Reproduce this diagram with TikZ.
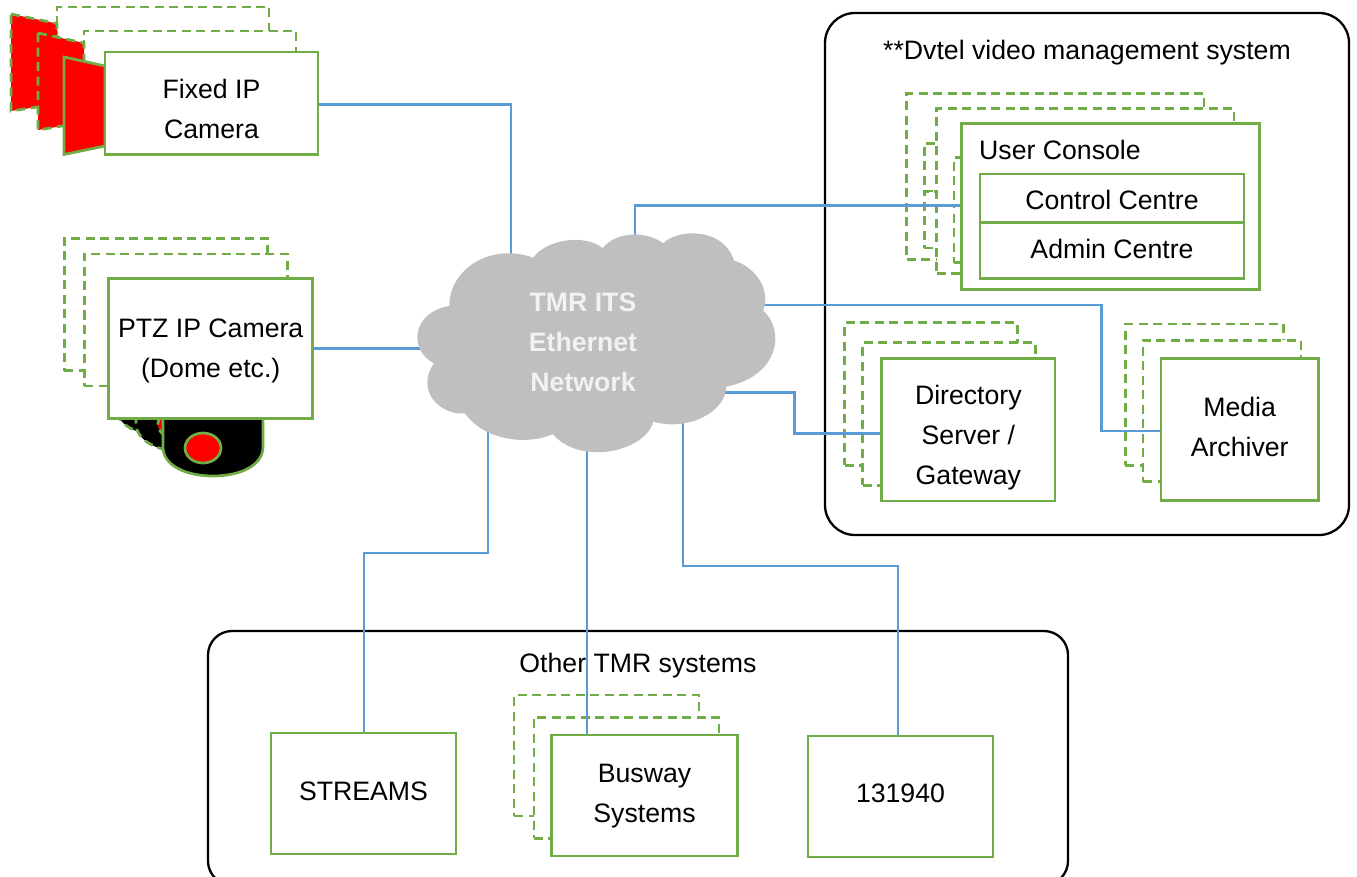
\documentclass[tikz,border=0pt]{standalone}
\usepackage{fontspec}
\setmainfont{Liberation Sans}
\definecolor{boxgreen}{HTML}{70AD47}
\definecolor{wireblue}{HTML}{5B9BD5}
\definecolor{cloudgrey}{HTML}{BFBFBF}
\tikzset{
  every node/.style={font=\fontsize{26.67}{40}\selectfont},
  unitbox/.style={draw=boxgreen,line width=2.7pt,fill=white,align=center,inner sep=0pt},
  ghostbox/.style={unitbox,dashed,dash pattern=on 9pt off 5.5pt},
  caption/.style={align=center,inner sep=0pt},
  sysbox/.style={draw=black,line width=2.3pt,rounded corners=30pt,inner sep=0pt},
  wire/.style={draw=wireblue,line width=2.5pt},
  lens/.style={draw=boxgreen,line width=2.7pt,fill=red},
  ghostlens/.style={lens,dashed,dash pattern=on 9pt off 5.5pt},
  dome/.style={draw=boxgreen,line width=2.7pt,fill=black},
  ghostdome/.style={dome,dashed,dash pattern=on 9pt off 5.5pt}
}
\begin{document}
\begin{tikzpicture}[x=1pt,y=-1pt]
\clip (0,0) rectangle (1357,877);
% Drawing system frames
\node[sysbox,minimum width=524pt,minimum height=522pt] (dvtel) at (1087,274) {};
\node[sysbox,rounded corners=24pt,minimum width=860pt,minimum height=254pt] (other) at (638,758) {};
\node (dveltitle) at (1087,53) {**Dvtel video management system};
\node (othertitle) at (638,666) {Other TMR systems};
% Fixed IP cameras
\node[ghostbox,minimum width=212pt,minimum height=103pt] (fixedA) at (163,58.5) {};
\draw[ghostlens] (11,14) -- (57,23.5) -- (57,104) -- (11,111) -- cycle;
\node[ghostbox,minimum width=212pt,minimum height=103pt] (fixedB) at (190,82.5) {};
\draw[ghostlens] (38,33) -- (84,43) -- (84,122.5) -- (38,130) -- cycle;
\draw[lens] (64,57) -- (105,66) -- (105,146) -- (64,154.5) -- cycle;
\node[unitbox,minimum width=213pt,minimum height=102.5pt,label={[caption,yshift=-6pt]center:Fixed IP\\Camera}] (fixed) at (211.5,103.25) {};
% PTZ IP cameras
\begin{scope}[shift={(-47,-40)}]
\draw[ghostdome] (163,395) -- (163,447) .. controls (163,465) and (185,476) .. (213,476) .. controls (241,476) and (263,465) .. (263,447) -- (263,395) -- cycle;
\draw[ghostlens] (203,448) ellipse (18pt and 15pt);
\end{scope}
\node[ghostbox,minimum width=203pt,minimum height=132pt] (ptzA) at (165.8,304.5) {};
\begin{scope}[shift={(-27,-24)}]
\draw[ghostdome] (163,395) -- (163,447) .. controls (163,465) and (185,476) .. (213,476) .. controls (241,476) and (263,465) .. (263,447) -- (263,395) -- cycle;
\draw[ghostlens] (203,448) ellipse (18pt and 15pt);
\end{scope}
\node[ghostbox,minimum width=203pt,minimum height=132pt] (ptzB) at (185.8,320) {};
\draw[dome] (163,395) -- (163,447) .. controls (163,465) and (185,476) .. (213,476) .. controls (241,476) and (263,465) .. (263,447) -- (263,395) -- cycle;
\draw[lens] (203,448) ellipse (18pt and 15pt);
\node[unitbox,minimum width=204pt,minimum height=140pt,label={[caption,yshift=-2pt]center:PTZ IP Camera\\(Dome etc.)}] (ptz) at (210.7,348.7) {};
% User consoles
\node[ghostbox,minimum width=297.3pt,minimum height=166pt] (consoleA) at (1055.3,176.3) {};
\node[ghostbox,minimum width=264pt,minimum height=48.4pt] (controlA) at (1056.3,167.5) {};
\node[ghostbox,minimum width=264pt,minimum height=56.3pt] (adminA) at (1056.3,219.8) {};
\node[ghostbox,minimum width=297.3pt,minimum height=165pt] (consoleB) at (1085.3,190.8) {};
\node[ghostbox,minimum width=264pt,minimum height=47.7pt] (controlB) at (1086,181.2) {};
\node[ghostbox,minimum width=264pt,minimum height=57.7pt] (adminB) at (1086,233.85) {};
\node[unitbox,minimum width=297.6pt,minimum height=166pt] (console) at (1110.5,206.3) {};
\node[right,inner sep=0pt] (consoletitle) at (979,150) {User Console};
\node[unitbox,minimum width=264pt,minimum height=48.3pt,label={[caption,yshift=-2pt]center:Control Centre}] (control) at (1112,198.2) {};
\node[unitbox,minimum width=264pt,minimum height=56pt,label={[caption,yshift=1pt]center:Admin Centre}] (admin) at (1112,250.3) {};
% Directory servers
\node[ghostbox,minimum width=173pt,minimum height=142.6pt] (directoryA) at (931.2,394) {};
\node[ghostbox,minimum width=173pt,minimum height=142.6pt] (directoryB) at (949.2,414) {};
\node[unitbox,minimum width=173.3pt,minimum height=142.7pt,label={[caption,yshift=-8pt]center:Directory\\Server /\\Gateway}] (directory) at (968.35,429.65) {};
% Media archivers
\node[ghostbox,minimum width=158pt,minimum height=141.3pt] (mediaA) at (1204.3,394.65) {};
\node[ghostbox,minimum width=158pt,minimum height=141.3pt] (mediaB) at (1222,410.85) {};
\node[unitbox,minimum width=157.3pt,minimum height=142pt,label={[caption,yshift=2pt]center:Media\\Archiver}] (media) at (1239.65,429.3) {};
% Other systems
\node[unitbox,minimum width=185pt,minimum height=121pt,label={[caption,yshift=2pt]center:STREAMS}] (streams) at (363.5,793.5) {};
\node[ghostbox,minimum width=185pt,minimum height=121pt] (buswayA) at (606.5,755.5) {};
\node[ghostbox,minimum width=185pt,minimum height=121pt] (buswayB) at (626.35,777.8) {};
\node[unitbox,minimum width=185.6pt,minimum height=121pt,label={[caption,yshift=-1pt]center:Busway\\Systems}] (busway) at (644.5,795.5) {};
\node[unitbox,minimum width=185pt,minimum height=121pt,label={[caption,yshift=3pt]center:131940}] (hotline) at (900.5,796.5) {};
% Drawing wires
\coordinate (portfixed) at (511,265);
\coordinate (portptz) at (425,349);
\coordinate (portconsole) at (635,240);
\coordinate (portmedia) at (755,305);
\coordinate (portdirectory) at (720,392.3);
\coordinate (portstreams) at (488,425);
\coordinate (portbusway) at (587,440);
\coordinate (porthotline) at (683,415);
\coordinate (benddirectory) at (794.3,410);
\coordinate (bendstreams) at (420,553);
\coordinate (bendhotline) at (790,566);
\draw[wire] ([yshift=-1.5pt]fixed.east) -| (portfixed);
\draw[wire] (ptz.east) -- (ptz.east -| portptz);
\draw[wire] (portconsole) |- ([yshift=1pt]console.west);
\draw[wire] (portmedia) -| ([xshift=-58pt,yshift=-1.7pt]media.west) -- ([yshift=-1.7pt]media.west);
\draw[wire] (portdirectory) -| (benddirectory) |- ([yshift=-3.6pt]directory.west);
\draw[wire] (portstreams) |- (bendstreams) -| ([xshift=0.5pt]streams.north);
\draw[wire] (portbusway) -- (portbusway |- busway.north);
\draw[wire] (porthotline) |- (bendhotline) -| ([xshift=-2.5pt]hotline.north);
% Done with wires; drawing cloud
\fill[cloudgrey] (449.3,306)
  .. controls (449,270) and (490,242) .. (533.3,257.7)
  .. controls (545,240) and (585,233) .. (602.7,248.3)
  .. controls (615,232) and (645,230) .. (663.3,243.3)
  .. controls (675,230) and (722,225) .. (734.3,260.7)
  .. controls (750,265) and (772,285) .. (763.3,310.7)
  .. controls (785,330) and (780,376) .. (726,386.7)
  .. controls (727,410) and (690,432) .. (653.3,421.7)
  .. controls (645,452) and (580,466) .. (552.7,434)
  .. controls (530,445) and (485,442) .. (465,413.3)
  .. controls (440,416) and (415,390) .. (434,363.3)
  .. controls (408,350) and (412,312) .. (449.3,306) -- cycle;
\node[align=center,text=white!95!black,font=\fontsize{26.67}{40}\selectfont\bfseries] (network) at (583,342) {TMR ITS\\Ethernet\\Network};
\end{tikzpicture}
\end{document}
